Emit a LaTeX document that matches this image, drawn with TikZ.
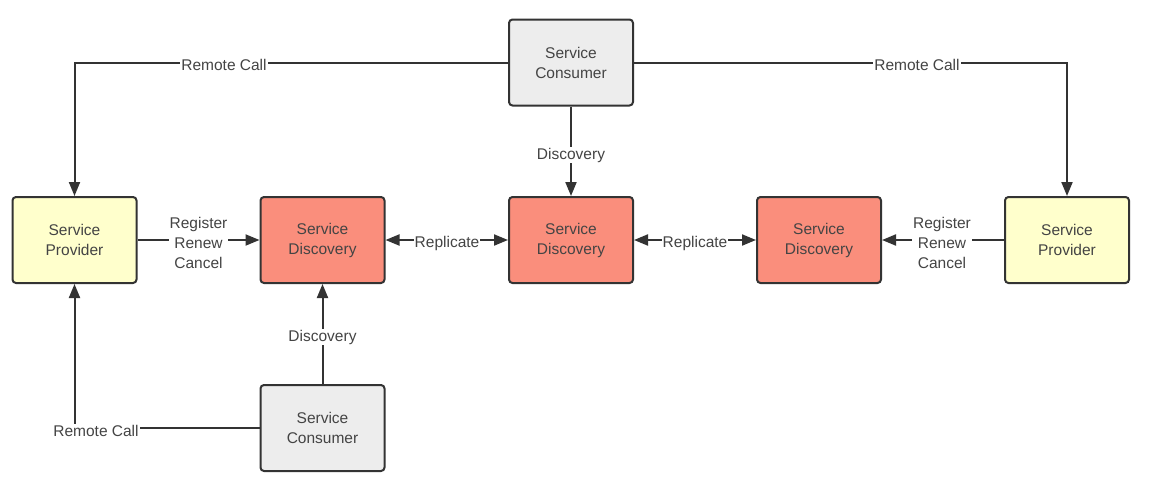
\documentclass[tikz,border=0pt]{standalone}
\usepackage{fontspec}
\setmainfont{Liberation Sans}
\usetikzlibrary{arrows.meta}
\definecolor{edge}{HTML}{333333}
\definecolor{txt}{HTML}{444444}
\definecolor{provfill}{HTML}{FFFFCC}
\definecolor{sdfill}{HTML}{FA8E7C}
\definecolor{consfill}{HTML}{EDEDED}
\begin{document}
\begin{tikzpicture}[x=1pt,y=-1pt,
  box/.style={draw=edge, line width=2pt, rounded corners=3.5pt, minimum width=124pt, minimum height=86pt, align=center, text=txt, font=\fontsize{15.5}{20}\selectfont, inner sep=0pt},
  prov/.style={box, fill=provfill},
  sd/.style={box, fill=sdfill},
  cons/.style={box, fill=consfill},
  conn/.style={draw=edge, line width=2pt},
  arr/.style={conn, -{Triangle[length=14pt,width=11pt]}},
  darr/.style={conn, {Triangle[length=14pt,width=11pt]}-{Triangle[length=14pt,width=11pt]}},
  lbl/.style={fill=white, text=txt, font=\fontsize{15.5}{20}\selectfont, align=center, inner sep=1pt}
]
\useasboundingbox (0,0) rectangle (1155,490);
\fill[white] (0,0) rectangle (1155,490);

\node[cons] (tc) at (571,62.5) {Service\\Consumer};
\node[prov] (lp) at (74.5,240) {Service\\Provider};
\node[sd] (sd1) at (322.5,240) {Service\\Discovery};
\node[sd] (sd2) at (571,240) {Service\\Discovery};
\node[sd] (sd3) at (819,240) {Service\\Discovery};
\node[prov] (rp) at (1067,240) {Service\\Provider};
\node[cons] (bc) at (322.5,428) {Service\\Consumer};

\draw[arr] (tc.west) -| (lp.north);
\draw[arr] (tc.east) -| (rp.north);
\draw[arr] (tc.south) -- (sd2.north);
\draw[arr] (bc.north) -- (sd1.south);
\draw[arr] (bc.west) -| (lp.south);
\draw[arr] (lp.east) -- (sd1.west);
\draw[arr] (rp.west) -- (sd3.east);
\draw[darr] (sd1.east) -- (sd2.west);
\draw[darr] (sd2.east) -- (sd3.west);

\node[lbl] (l1) at (224,64.5) {Remote Call};
\node[lbl] (l2) at (917,64.5) {Remote Call};
\node[lbl] (l3) at (96,430.5) {Remote Call};
\node[lbl] (l4) at (571,155) {Discovery};
\node[lbl] (l5) at (322.5,337) {Discovery};
\node[lbl] (l6) at (198.5,243) {Register\\Renew\\Cancel};
\node[lbl] (l7) at (942,243) {Register\\Renew\\Cancel};
\node[lbl] (l8) at (447,243) {Replicate};
\node[lbl] (l9) at (695,243) {Replicate};
\end{tikzpicture}
\end{document}
